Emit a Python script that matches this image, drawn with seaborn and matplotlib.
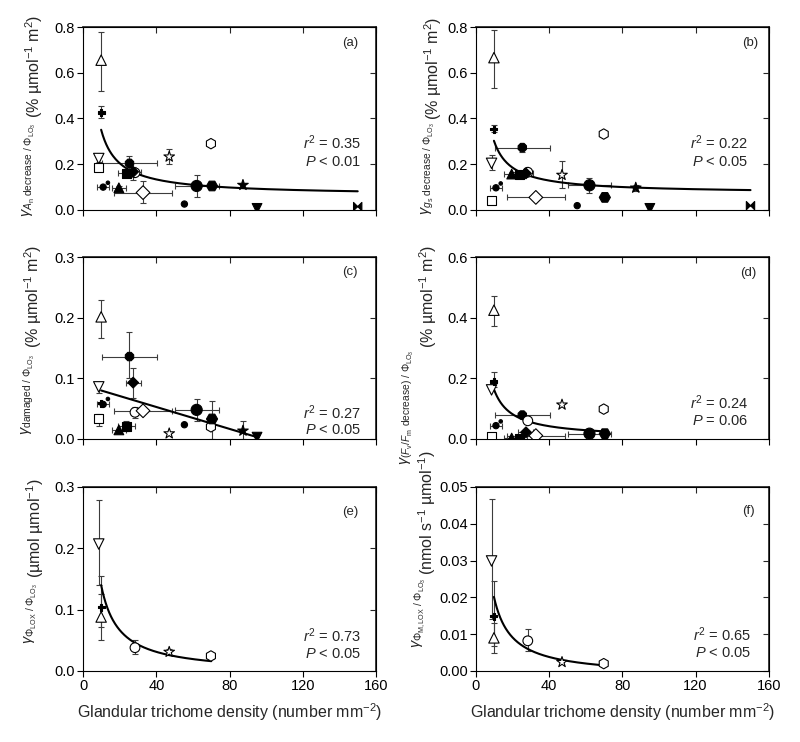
import numpy as np
import pandas as pd
import matplotlib
matplotlib.use('Agg')
import matplotlib.pyplot as plt
import seaborn as sns

sns.set_theme(style='ticks')
plt.rcParams['font.family'] = ['Liberation Sans', 'DejaVu Sans']
plt.rcParams['mathtext.fontset'] = 'custom'
plt.rcParams['mathtext.rm'] = 'Liberation Sans'
plt.rcParams['mathtext.it'] = 'Liberation Sans:italic'
plt.rcParams['mathtext.bf'] = 'Liberation Sans:bold'
plt.rcParams['mathtext.sf'] = 'Liberation Sans'

nan = np.nan

# ---------------- data ----------------
SPECIES = ['tri_down_open', 'square_open', 'tri_up_open', 'plus', 'circle_small', 'dot',
           'tri_up_filled', 'square_filled', 'octagon_filled', 'hex_open_small',
           'diamond_filled', 'diamond_open', 'star_open', 'circle_small2', 'circle_big',
           'hex_open', 'hex_filled_big', 'star_filled', 'tri_down_filled', 'xbox']
# glandular trichome density (number mm-2) and its SE
DENSITY = [8.5, 8.5, 9.8, 9.8, 10.9, 13.5, 19.5, 23.6, 25.3, 28.3,
           27.3, 32.7, 47.0, 55.3, 62.0, 69.8, 70.4, 87.3, 95.0, 150.0]
DENSITY_SE = [0, 0, 0, 0, 3.2, 0, 4.0, 4.5, 15.0, 0,
              4.1, 16.0, 0, 0, 12.0, 0, 0, 0, 0, 0]

# (a) gamma An decrease
A_Y = [.225, .185, .655, .426, .10, .119, .097, .16, .204, .163, .167, .076, .233, .026, .105, .29, .105, .109, .007, .015]
A_LO = [.21, .17, .52, .40, nan, nan, .087, .15, .18, nan, .13, .03, .20, nan, .055, nan, nan, nan, nan, nan]
A_HI = [.245, .20, .78, .455, nan, nan, .107, .17, .235, nan, .19, .125, .265, nan, .155, nan, nan, nan, nan, nan]
# (b) gamma gs decrease
B_Y = [.204, .04, .666, .353, .097, .116, .157, .157, .273, .165, .16, .055, .153, .019, .108, .332, .055, .097, .007, .019]
B_LO = [.175, nan, .535, .34, nan, nan, .147, .142, .255, nan, .15, nan, .095, nan, .075, nan, nan, .085, nan, nan]
B_HI = [.24, nan, .785, .37, nan, nan, .167, .172, .29, nan, .17, nan, .215, nan, .14, nan, nan, .11, nan, nan]
# (c) gamma damaged
C_Y = [.086, .033, .2015, .059, .057, .066, .015, .021, .136, .044, .093, .0465, .009, .0235, .048, .02, .033, .0135, .003, nan]
C_LO = [.076, .022, .166, nan, nan, nan, nan, .013, .10, .034, .068, nan, nan, nan, .03, nan, 0.0, 0.0, nan, nan]
C_HI = [.094, .042, .23, nan, nan, nan, nan, .029, .176, .052, .117, nan, nan, nan, .066, nan, .062, .029, nan, nan]
# (d) gamma Fv/Fm decrease
D_Y = [.162, .009, .425, .19, .044, .058, .003, .0, .079, .06, .022, .011, .113, nan, .0175, .0985, .0175, nan, nan, nan]
D_LO = [nan, nan, .372, .17, nan, nan, nan, nan, nan, nan, nan, nan, nan, nan, nan, .09, nan, nan, nan, nan]
D_HI = [nan, nan, .473, .22, nan, nan, nan, nan, nan, nan, nan, nan, nan, nan, nan, .108, nan, nan, nan, nan]
# (e) gamma LOX emission
E_Y = [.207, nan, .088, .104, nan, nan, nan, nan, nan, .038, nan, nan, .031, nan, nan, .0245, nan, nan, nan, nan]
E_LO = [.14, nan, .051, .072, nan, nan, nan, nan, nan, .028, nan, nan, .026, nan, nan, .019, nan, nan, nan, nan]
E_HI = [.278, nan, .125, .155, nan, nan, nan, nan, nan, .05, nan, nan, .036, nan, nan, .03, nan, nan, nan, nan]
# (f) gamma max LOX emission
F_Y = [.0299, nan, .009, .0149, nan, nan, nan, nan, nan, .0082, nan, nan, .0024, nan, nan, .002, nan, nan, nan, nan]
F_LO = [.014, nan, .005, .0068, nan, nan, nan, nan, nan, .0055, nan, nan, nan, nan, nan, nan, nan, nan, nan, nan]
F_HI = [.0466, nan, .013, .0245, nan, nan, nan, nan, nan, .0113, nan, nan, nan, nan, nan, nan, nan, nan, nan, nan]

# fitted relationships: (kind, a, b, xmin, xmax); hyper: y=a+b/x, linear: y=a+b*x
FIT_A = ('hyper', 0.063, 2.82, 9.8, 150)
FIT_B = ('hyper', 0.072, 2.26, 9.8, 150)
FIT_C = ('linear', 0.0889, -0.000904, 9.8, 95)
FIT_D = ('hyper', 0.0025, 1.583, 9.8, 70.4)
FIT_E = ('hyper', -0.0042, 1.414, 9.8, 70)
FIT_F = ('hyper', -0.0015, 0.212, 9.8, 70.4)

STATS = {'a': ('0.35', '<', '0.01'), 'b': ('0.22', '<', '0.05'), 'c': ('0.27', '<', '0.05'),
         'd': ('0.24', '=', '0.06'), 'e': ('0.73', '<', '0.05'), 'f': ('0.65', '<', '0.05')}

# ---------------- styles ----------------
BOWTIE = [(-1, -1), (1, 1), (1, -1), (-1, 1), (-1, -1)]
MARKERS = {'tri_down_open': 'v', 'square_open': 's', 'tri_up_open': '^', 'plus': 'P',
           'circle_small': 'o', 'dot': 'o', 'tri_up_filled': '^', 'square_filled': 's',
           'octagon_filled': '8', 'hex_open_small': 'o', 'diamond_filled': 'D',
           'diamond_open': 'D', 'star_open': '*', 'circle_small2': 'o', 'circle_big': 'o',
           'hex_open': 'h', 'hex_filled_big': 'H', 'star_filled': '*', 'tri_down_filled': 'v',
           'xbox': BOWTIE}
MS = {'tri_down_open': 7.5, 'square_open': 6.5, 'tri_up_open': 7.5, 'plus': 5,
      'circle_small': 4.5, 'dot': 2.5, 'tri_up_filled': 7, 'square_filled': 6.5,
      'octagon_filled': 6.5, 'hex_open_small': 7, 'diamond_filled': 5.5,
      'diamond_open': 7, 'star_open': 8, 'circle_small2': 4.5, 'circle_big': 8,
      'hex_open': 7.5, 'hex_filled_big': 8, 'star_filled': 8, 'tri_down_filled': 7, 'xbox': 6}
SIZES = {k: v ** 2 for k, v in MS.items()}
FILL = ['open' if k.endswith('_open') or k.endswith('open_small') else 'filled' for k in SPECIES]

fig = plt.figure(figsize=(8.0, 7.42), dpi=100)

LEFT_X, RIGHT_X, W = 0.104, 0.595, 0.366
ROWS = [(0.717, 0.2466), (0.4084, 0.245), (0.0957, 0.248)]

panels = [
    dict(key='a', col=0, row=0, y=A_Y, lo=A_LO, hi=A_HI, fit=FIT_A, ylim=(0, 0.8),
         yticks=[0, .2, .4, .6, .8], fmt='{:.1f}',
         glab=r'$\gamma_{A_\mathrm{n}\ \mathrm{decrease}\ /\ \Phi_{\mathrm{LO}_3}}$',
         ulab='(% \u00b5mol$^{-1}$ m$^{2}$)', gx=-0.184, ux=-0.167, gy=0.478, uy=0.50,
         lab=(0.911, 0.913), st=(0.948, 0.366, 0.26)),
    dict(key='b', col=1, row=0, y=B_Y, lo=B_LO, hi=B_HI, fit=FIT_B, ylim=(0, 0.8),
         yticks=[0, .2, .4, .6, .8], fmt='{:.1f}',
         glab=r'$\gamma_{g_\mathrm{s}\ \mathrm{decrease}\ /\ \Phi_{\mathrm{LO}_3}}$',
         ulab='(% \u00b5mol$^{-1}$ m$^{2}$)', gx=-0.164, ux=-0.147, gy=0.478, uy=0.49,
         lab=(0.935, 0.913), st=(0.93, 0.366, 0.26)),
    dict(key='c', col=0, row=1, y=C_Y, lo=C_LO, hi=C_HI, fit=FIT_C, ylim=(0, 0.3),
         yticks=[0, .1, .2, .3], fmt='{:.1f}',
         glab=r'$\gamma_{\mathrm{damaged}\ /\ \Phi_{\mathrm{LO}_3}}$',
         ulab='(% \u00b5mol$^{-1}$ m$^{2}$)', gx=-0.188, ux=-0.171, gy=0.47, uy=0.50,
         lab=(0.911, 0.918), st=(0.948, 0.143, 0.05)),
    dict(key='d', col=1, row=1, y=D_Y, lo=D_LO, hi=D_HI, fit=FIT_D, ylim=(0, 0.6),
         yticks=[0, .2, .4, .6], fmt='{:.1f}',
         glab=r'$\gamma_{(F_\mathrm{v}/F_\mathrm{m}\ \mathrm{decrease})\ /\ \Phi_{\mathrm{LO}_3}}$',
         ulab='(% \u00b5mol$^{-1}$ m$^{2}$)', gx=-0.235, ux=-0.164, gy=0.49, uy=0.50,
         lab=(0.93, 0.912), st=(0.93, 0.198, 0.099)),
    dict(key='e', col=0, row=2, y=E_Y, lo=E_LO, hi=E_HI, fit=FIT_E, ylim=(0, 0.3),
         yticks=[0, .1, .2, .3], fmt='{:.1f}',
         glab=r'$\gamma_{\Phi_\mathrm{LOX}\ /\ \Phi_{\mathrm{LO}_3}}$',
         ulab='(\u00b5mol \u00b5mol$^{-1}$)', gx=-0.177, ux=-0.164, gy=0.48, uy=0.505,
         lab=(0.911, 0.864), st=(0.948, 0.19, 0.092)),
    dict(key='f', col=1, row=2, y=F_Y, lo=F_LO, hi=F_HI, fit=FIT_F, ylim=(0, 0.05),
         yticks=[0, .01, .02, .03, .04, .05], fmt='{:.2f}',
         glab=r'$\gamma_{\Phi_\mathrm{M,LOX}\ /\ \Phi_{\mathrm{LO}_3}}$',
         ulab='(nmol s$^{-1}$ \u00b5mol$^{-1}$)', gx=-0.195, ux=-0.167, gy=0.51, uy=0.52,
         lab=(0.93, 0.87), st=(0.94, 0.196, 0.098)),
]

XTICKS = [0, 40, 80, 120, 160]

for p in panels:
    bottom, height = ROWS[p['row']]
    left = LEFT_X if p['col'] == 0 else RIGHT_X
    ax = fig.add_axes([left, bottom, W, height])

    df = pd.DataFrame({'x': DENSITY, 'xse': DENSITY_SE, 'y': p['y'], 'lo': p['lo'],
                       'hi': p['hi'], 'species': SPECIES, 'fill': FILL})
    df = df.dropna(subset=['y'])

    # error bars
    eb = df.dropna(subset=['lo', 'hi'])
    ax.errorbar(eb['x'], eb['y'], yerr=[eb['y'] - eb['lo'], eb['hi'] - eb['y']],
                fmt='none', ecolor='#3c3c3c', elinewidth=0.8, capsize=2.5, capthick=0.8, zorder=2)
    if p['row'] < 2:
        xe = df[df['xse'] > 0]
        ax.errorbar(xe['x'], xe['y'], xerr=xe['xse'], fmt='none', ecolor='#3c3c3c',
                    elinewidth=0.8, capsize=2.5, capthick=0.8, zorder=2)

    # fitted curve
    kind, a, b, x0, x1 = p['fit']
    xx = np.linspace(x0, x1, 300)
    yy = a + b / xx if kind == 'hyper' else a + b * xx
    sns.lineplot(x=xx, y=yy, ax=ax, color='black', lw=1.5, zorder=2.5)

    # points
    sns.scatterplot(data=df, x='x', y='y', hue='fill', palette={'open': 'white', 'filled': 'black'},
                    style='species', markers={k: MARKERS[k] for k in df['species']},
                    size='species', sizes={k: SIZES[k] for k in df['species']},
                    edgecolor='black', linewidth=0.8, legend=False, ax=ax, zorder=3)

    ax.set_xlim(0, 160)
    ax.set_ylim(*p['ylim'])
    ax.set_xticks(XTICKS)
    ax.set_yticks(p['yticks'])
    ax.set_yticklabels([p['fmt'].format(v) for v in p['yticks']])
    ax.set_xlabel('')
    ax.set_ylabel('')
    ax.tick_params(direction='out', length=4, width=0.8, labelsize=10.5, pad=2, colors='black')
    if p['row'] < 2:
        ax.tick_params(axis='x', labelbottom=False)
    else:
        ax.set_xlabel('Glandular trichome density (number mm$^{-2}$)', fontsize=11.5, labelpad=6)
    for s in ax.spines.values():
        s.set_linewidth(0.8)
        s.set_color('black')
    top = ax.secondary_xaxis('top')
    top.set_xticks(XTICKS)
    top.tick_params(direction='in', labeltop=False, length=4, width=0.8)
    right = ax.secondary_yaxis('right')
    right.set_yticks(p['yticks'])
    right.tick_params(direction='in', labelright=False, length=4, width=0.8)

    # y labels (two parts)
    ax.text(p['gx'], p['gy'], p['glab'], transform=ax.transAxes, rotation=90,
            ha='center', va='top', fontsize=10.5)
    ax.text(p['ux'], p['uy'], p['ulab'], transform=ax.transAxes, rotation=90,
            ha='center', va='bottom', fontsize=11.5)

    # panel letter and stats
    ax.text(p['lab'][0], p['lab'][1], f"({p['key']})", transform=ax.transAxes,
            ha='center', va='center', fontsize=9.5)
    r2, op, pv = STATS[p['key']]
    sx, sy1, sy2 = p['st']
    ax.text(sx, sy1, f'$r^2$ = {r2}', transform=ax.transAxes, ha='right', va='center', fontsize=10.5)
    ax.text(sx, sy2, f'$P$ {op} {pv}', transform=ax.transAxes, ha='right', va='center', fontsize=10.5)

fig.savefig('out.png', dpi=100, facecolor='white')
